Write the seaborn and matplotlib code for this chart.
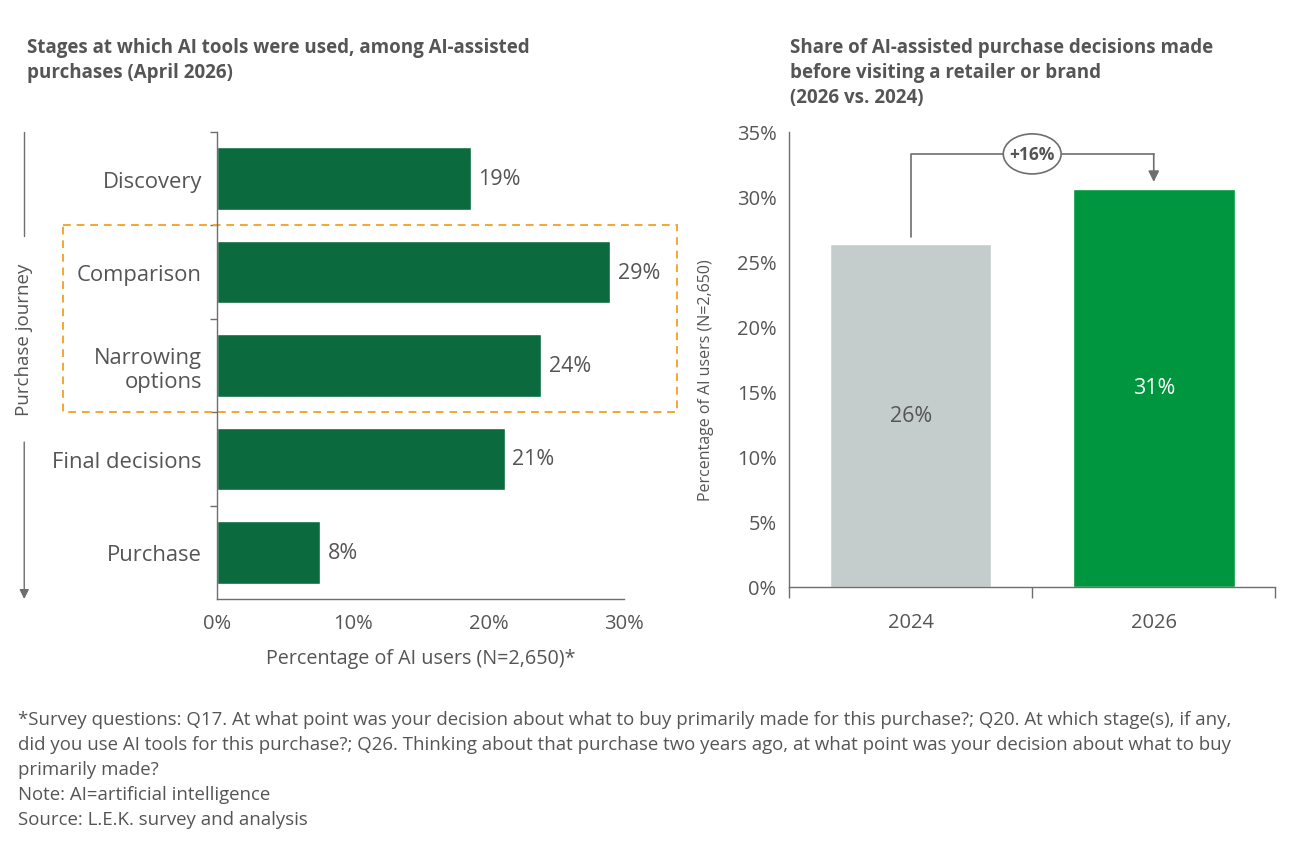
import matplotlib
matplotlib.use("Agg")
import matplotlib.pyplot as plt
from matplotlib.patches import Rectangle, Ellipse
from matplotlib.ticker import FuncFormatter, FixedLocator
import seaborn as sns
import pandas as pd

# data
stages = ["Discovery", "Comparison", "Narrowing\noptions", "Final decisions", "Purchase"]
stage_share = [18.7, 29.0, 23.9, 21.2, 7.6]

years = ["2024", "2026"]
before_visit_share = [26.4, 30.6]
change_label = "+16%"

dark_green = "#0B6B3E"
bright_green = "#00963F"
light_grey = "#C5CDCC"
orange = "#F0A830"
text_grey = "#555555"
axis_grey = "#6E6E6E"

sns.set_theme(style="white")
plt.rcParams["font.family"] = ["Open Sans", "DejaVu Sans"]
plt.rcParams["text.color"] = text_grey
plt.rcParams["axes.labelcolor"] = text_grey
plt.rcParams["xtick.color"] = axis_grey
plt.rcParams["ytick.color"] = axis_grey

fig = plt.figure(figsize=(13, 8.54), dpi=100)

# ---- left panel: stages ----
ax1 = fig.add_axes([0.167, 0.2974, 0.313, 0.547])
df1 = pd.DataFrame({"stage": stages, "share": stage_share})
sns.barplot(data=df1, x="share", y="stage", orient="h", color=dark_green,
            width=0.67, saturation=1, ax=ax1)
ax1.set_xlim(0, 30)
ax1.set_ylim(4.5, -0.5)
ax1.set_xticks([0, 10, 20, 30])
ax1.xaxis.set_major_formatter(FuncFormatter(lambda v, p: f"{v:.0f}%"))
ax1.tick_params(axis="x", length=6, width=1, labelsize=14.5, pad=4, colors=axis_grey,
                labelcolor=text_grey)
ax1.tick_params(axis="y", which="major", length=0, labelsize=15.8, pad=11,
                labelcolor=text_grey)
ax1.yaxis.set_minor_locator(FixedLocator([-0.5, 0.5, 1.5, 2.5, 3.5]))
ax1.tick_params(axis="y", which="minor", length=5, width=1, color=axis_grey, left=True)
for lab in ax1.get_yticklabels():
    lab.set_horizontalalignment("right")
ax1.set_ylabel("")
ax1.set_xlabel("Percentage of AI users (N=2,650)*", fontsize=14.2, labelpad=11)
for s in ["top", "right"]:
    ax1.spines[s].set_visible(False)
for s in ["left", "bottom"]:
    ax1.spines[s].set_color(axis_grey)
    ax1.spines[s].set_linewidth(1)

for i, v in enumerate(stage_share):
    ax1.text(v + 0.55, i, f"{round(v):d}%", va="center", ha="left",
             fontsize=15.5, color=text_grey)

# highlight box around comparison / narrowing
ax1.add_patch(Rectangle((-11.35, 0.5), 45.25, 2.0, fill=False, edgecolor=orange,
                        linestyle=(0, (4, 3)), linewidth=1.4, clip_on=False))

# "Purchase journey" axis label with line and arrow
ax1.text(-0.474, 0.557, "Purchase journey", transform=ax1.transAxes, rotation=90,
         ha="center", va="center", fontsize=13.5, color=text_grey)
ax1.plot([-0.474, -0.474], [1.0, 0.777], transform=ax1.transAxes, color=axis_grey,
         linewidth=1, clip_on=False)
ax1.annotate("", xy=(-0.474, 0.0), xytext=(-0.474, 0.336),
             xycoords="axes fraction", textcoords="axes fraction",
             arrowprops=dict(arrowstyle="-|>", color=axis_grey, lw=1,
                             mutation_scale=14, shrinkA=0, shrinkB=0))

# ---- right panel: before visiting ----
ax2 = fig.add_axes([0.607, 0.3115, 0.374, 0.533])
df2 = pd.DataFrame({"year": years, "share": before_visit_share})
sns.barplot(data=df2, x="year", y="share", hue="year",
            palette=[light_grey, bright_green], width=0.665, saturation=1,
            legend=False, ax=ax2)
ax2.set_xlim(-0.5, 1.5)
ax2.set_ylim(0, 35)
ax2.set_yticks(range(0, 36, 5))
ax2.yaxis.set_major_formatter(FuncFormatter(lambda v, p: f"{v:.0f}%"))
ax2.tick_params(axis="y", length=5, width=1, labelsize=14.5, pad=4,
                colors=axis_grey, labelcolor=text_grey)
ax2.tick_params(axis="x", which="major", length=0, labelsize=14.5, pad=18,
                labelcolor=text_grey)
ax2.xaxis.set_minor_locator(FixedLocator([-0.5, 0.5, 1.5]))
ax2.tick_params(axis="x", which="minor", length=8, width=1, color=axis_grey, bottom=True)
ax2.set_xlabel("")
ax2.set_ylabel("Percentage of AI users (N=2,650)", fontsize=11.5)
ax2.yaxis.set_label_coords(-0.154, 0.457)
for s in ["top", "right"]:
    ax2.spines[s].set_visible(False)
for s in ["left", "bottom"]:
    ax2.spines[s].set_color(axis_grey)
    ax2.spines[s].set_linewidth(1)

ax2.text(0, before_visit_share[0] / 2, f"{round(before_visit_share[0])}%",
         ha="center", va="center", fontsize=15.5, color=text_grey)
ax2.text(1, before_visit_share[1] / 2, f"{round(before_visit_share[1])}%",
         ha="center", va="center", fontsize=15.5, color="white")

# bracket with change label
top_y = 33.3
ax2.plot([0, 0, 1], [before_visit_share[0] + 0.5, top_y, top_y], color=axis_grey,
         linewidth=1.2, clip_on=False)
ax2.annotate("", xy=(1, before_visit_share[1] + 0.55), xytext=(1, top_y),
             arrowprops=dict(arrowstyle="-|>", color=axis_grey, lw=1.2,
                             mutation_scale=16, shrinkA=0, shrinkB=0))
ax2.add_patch(Ellipse((0.5, top_y), width=0.238, height=3.08, facecolor="white",
                      edgecolor=axis_grey, linewidth=1.2, zorder=5, clip_on=False))
ax2.text(0.5, top_y, change_label, ha="center", va="center", fontsize=12.5,
         fontweight="bold", color=text_grey, zorder=6)

# ---- titles and notes ----
fig.text(0.0208, 0.955,
         "Stages at which AI tools were used, among AI-assisted\npurchases (April 2026)",
         ha="left", va="top", fontsize=13.5, fontweight="bold", color=text_grey,
         linespacing=1.33)
fig.text(0.608, 0.955,
         "Share of AI-assisted purchase decisions made\nbefore visiting a retailer or brand\n(2026 vs. 2024)",
         ha="left", va="top", fontsize=13.5, fontweight="bold", color=text_grey,
         linespacing=1.33)

notes = ("*Survey questions: Q17. At what point was your decision about what to buy primarily made "
         "for this purchase?; Q20. At which stage(s), if any,\n"
         "did you use AI tools for this purchase?; Q26. Thinking about that purchase two years ago, "
         "at what point was your decision about what to buy\n"
         "primarily made?\n"
         "Note: AI=artificial intelligence\n"
         "Source: L.E.K. survey and analysis")
fig.text(0.0138, 0.168, notes, ha="left", va="top", fontsize=13.4, color=text_grey,
         linespacing=1.5)

fig.savefig("out.png", dpi=100, facecolor="white")
